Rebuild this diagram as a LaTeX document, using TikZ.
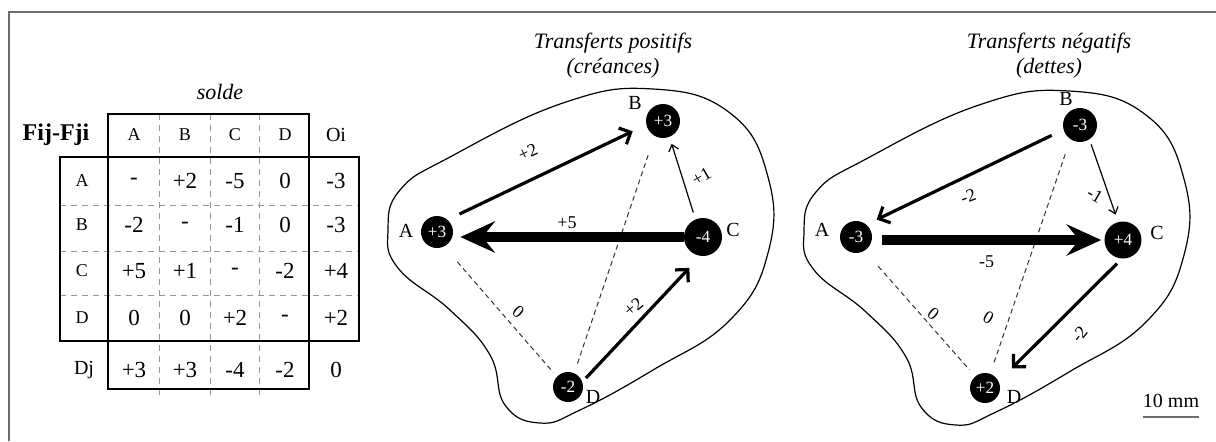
\documentclass[tikz,border=0pt]{standalone}
\usepackage{fontspec}
\setmainfont{Liberation Serif}
\usepackage{tikz}
\usetikzlibrary{arrows.meta}
\definecolor{framegray}{RGB}{110,110,110}
\definecolor{gridgray}{RGB}{150,150,150}

\begin{document}
\begin{tikzpicture}[
    x=0.5pt, y=-0.5pt,
    % Define styles
    agent/.style = {circle, fill=black, text=white, inner sep=0pt, font=\fontsize{8.6}{9}\selectfont},
    letter/.style = {font=\fontsize{10}{12}\selectfont, inner sep=0pt},
    amount/.style = {font=\fontsize{9}{11}\selectfont, inner sep=0pt},
    flow/.style = {line width=1.6pt, -{Straight Barb[length=4.5pt, width=9pt]}},
    thinflow/.style = {line width=0.6pt, -{Straight Barb[length=3pt, width=5pt]}},
    bigflow/.style = {line width=5pt, -{Stealth[length=17.5pt, width=16pt, inset=6.5pt, line width=0pt]}},
    zero/.style = {draw=black!80, line width=0.5pt, dash pattern=on 2.5pt off 1.8pt},
    blob/.style = {line width=0.6pt},
    title/.style = {font=\fontsize{11}{12.5}\selectfont\itshape, align=center},
    cell/.style = {font=\fontsize{11.5}{13}\selectfont, inner sep=0pt},
    head/.style = {font=\fontsize{9}{10}\selectfont, inner sep=0pt},
    tab/.style = {line width=0.6pt},
    grid/.style = {draw=gridgray, line width=0.5pt, dash pattern=on 3pt off 2.5pt},
    rim/.style = {draw=framegray, line width=0.7pt}
]
\useasboundingbox (0,0) rectangle (1216,441);

% Frame
\draw[rim] (9,441) -- (9,12) -- (1216,12);

% Table
\foreach \x in {159,210,259} \draw[grid] (\x,114) -- (\x,397);
\foreach \y in {205,251,295} \draw[grid] (60,\y) -- (359,\y);
\draw[tab] (108,114) rectangle (309,389);
\draw[tab] (60,157) rectangle (359,341);

\node[title] (solde) at (220,92) {solde};
\node[font=\fontsize{12}{14}\selectfont\bfseries, inner sep=0pt] (fij) at (56,135) {Fij-Fji};
\foreach \col/\x in {A/134, B/185, C/235, D/285}
    \node[head] (h\col) at (\x,135) {\col};
\node[font=\fontsize{10}{12}\selectfont, inner sep=0pt] (oi) at (336,135) {Oi};

\foreach \row/\y/\a/\b/\c/\d/\o in {A/181/-/+2/-5/0/-3, B/225/-2/-/-1/0/-3, C/271/+5/+1/-/-2/+4, D/318/0/0/+2/-/+2} {
    \node[head] (r\row) at (82,\y) {\row};
    \node[cell] (r\row a) at (134,\y) {\a};
    \node[cell] (r\row b) at (185,\y) {\b};
    \node[cell] (r\row c) at (235,\y) {\c};
    \node[cell] (r\row d) at (285,\y) {\d};
    \node[cell] (r\row o) at (336,\y) {\o};
}
\node[font=\fontsize{10}{12}\selectfont, inner sep=0pt] (dj) at (84,370) {Dj};
\foreach \x/\v [count=\i] in {134/+3, 185/+3, 235/-4, 285/-2, 336/0}
    \node[cell] (dj\i) at (\x,370) {\v};

% Outlines
\foreach \dx/\dy in {0/0, 416/2}
    \draw[blob, xshift=\dx*0.5pt, yshift=-\dy*0.5pt] plot[smooth cycle, tension=0.75] coordinates {
        (388,230) (400,190) (450,157) (563,103) (653,89) (730,113) (768,177)
        (768,253) (730,320) (653,370) (580,410) (540,423) (505,405) (490,355)
        (450,310) (398,268)};

% Transferts positifs
\node[title] (tpos) at (613,56) {Transferts positifs\\(créances)};
\node[agent, minimum size=16pt] (pA) at (437,232) {+3};
\node[agent, minimum size=17pt] (pB) at (663,121) {+3};
\node[agent, minimum size=19pt] (pC) at (703,237) {-4};
\node[agent, minimum size=15pt] (pD) at (568,387) {-2};
\node[letter] (pAl) at ([shift={(-31,-1)}]pA) {A};
\node[letter] (pBl) at ([shift={(-28,-18)}]pB) {B};
\node[letter] (pCl) at ([shift={(30,-7)}]pC) {C};
\node[letter] (pDl) at ([shift={(25,10)}]pD) {D};

\draw[zero, shorten <=10pt, shorten >=2.7pt] (pA.296) -- node[amount, xshift=8.9pt, rotate=-40] {0} (pD.137);
\draw[zero, shorten <=10pt, shorten >=4.5pt] (pB.241) -- (pD.66);
\draw[flow, shorten <=6.5pt, shorten >=7.4pt] (pA.49) -- node[amount, xshift=-9.5pt, yshift=10.2pt, rotate=25] {+2} (pB.193);
\draw[bigflow, shorten >=3.5pt] (pC.west) -- node[amount, xshift=-0.75pt, yshift=7pt] {+5} (pA.east |- pC.west);
\draw[thinflow, shorten <=3.5pt, shorten >=3.5pt] (pC.113) -- node[amount, xshift=9.5pt, yshift=0.6pt, rotate=30] {+1} (pB.292);
\draw[flow, shorten <=2.5pt, shorten >=8pt] (pD.20) -- node[amount, xshift=-4pt, yshift=6pt, rotate=40] {+2} (pC.262);

% Transferts negatifs
\node[title] (tneg) at (1049,56) {Transferts négatifs\\(dettes)};
\node[agent, minimum size=16pt] (nA) at (856,237) {-3};
\node[agent, minimum size=17pt] (nB) at (1080,125) {-3};
\node[agent, minimum size=18.5pt] (nC) at (1123,240) {+4};
\node[agent, minimum size=15pt] (nD) at (985,388) {+2};
\node[letter] (nAl) at ([shift={(-34,-7)}]nA) {A};
\node[letter] (nBl) at ([shift={(-14,-26)}]nB) {B};
\node[letter] (nCl) at ([shift={(34,-7)}]nC) {C};
\node[letter] (nDl) at ([shift={(29,9)}]nD) {D};

\draw[zero, shorten <=10.3pt, shorten >=4.2pt] (nA.302) -- node[amount, xshift=6.75pt, rotate=-40] {0} (nD.130);
\draw[zero, shorten <=7.8pt, shorten >=5.6pt] (nB.236) -- node[amount, pos=.76, xshift=-10.5pt, rotate=-30] {0} (nD.70);
\draw[flow, shorten <=6.4pt, shorten >=5.6pt] (nB.196) -- node[amount, xshift=1.65pt, yshift=-9.6pt, rotate=20] {-2} (nA.50);
\draw[thinflow, shorten <=2.5pt, shorten >=3.8pt] (nB.303) -- node[amount, xshift=-4.4pt, yshift=-7.15pt, rotate=-30] {-1} (nC.105);
\draw[bigflow, shorten <=5pt, shorten >=1.5pt] (nA.east |- nC.west) -- node[amount, xshift=-0.8pt, yshift=-10.85pt] {-5} (nC.west);
\draw[flow, shorten <=3.3pt, shorten >=9.2pt] (nC.266) -- node[amount, xshift=9.5pt, yshift=-7pt, rotate=50] {-2} (nD.26);

% Scale
\node[letter] (scale) at (1171,401) {10 mm};
\draw[draw=framegray, line width=0.8pt] (1143,417) -- (1199,417);

\end{tikzpicture}
\end{document}
